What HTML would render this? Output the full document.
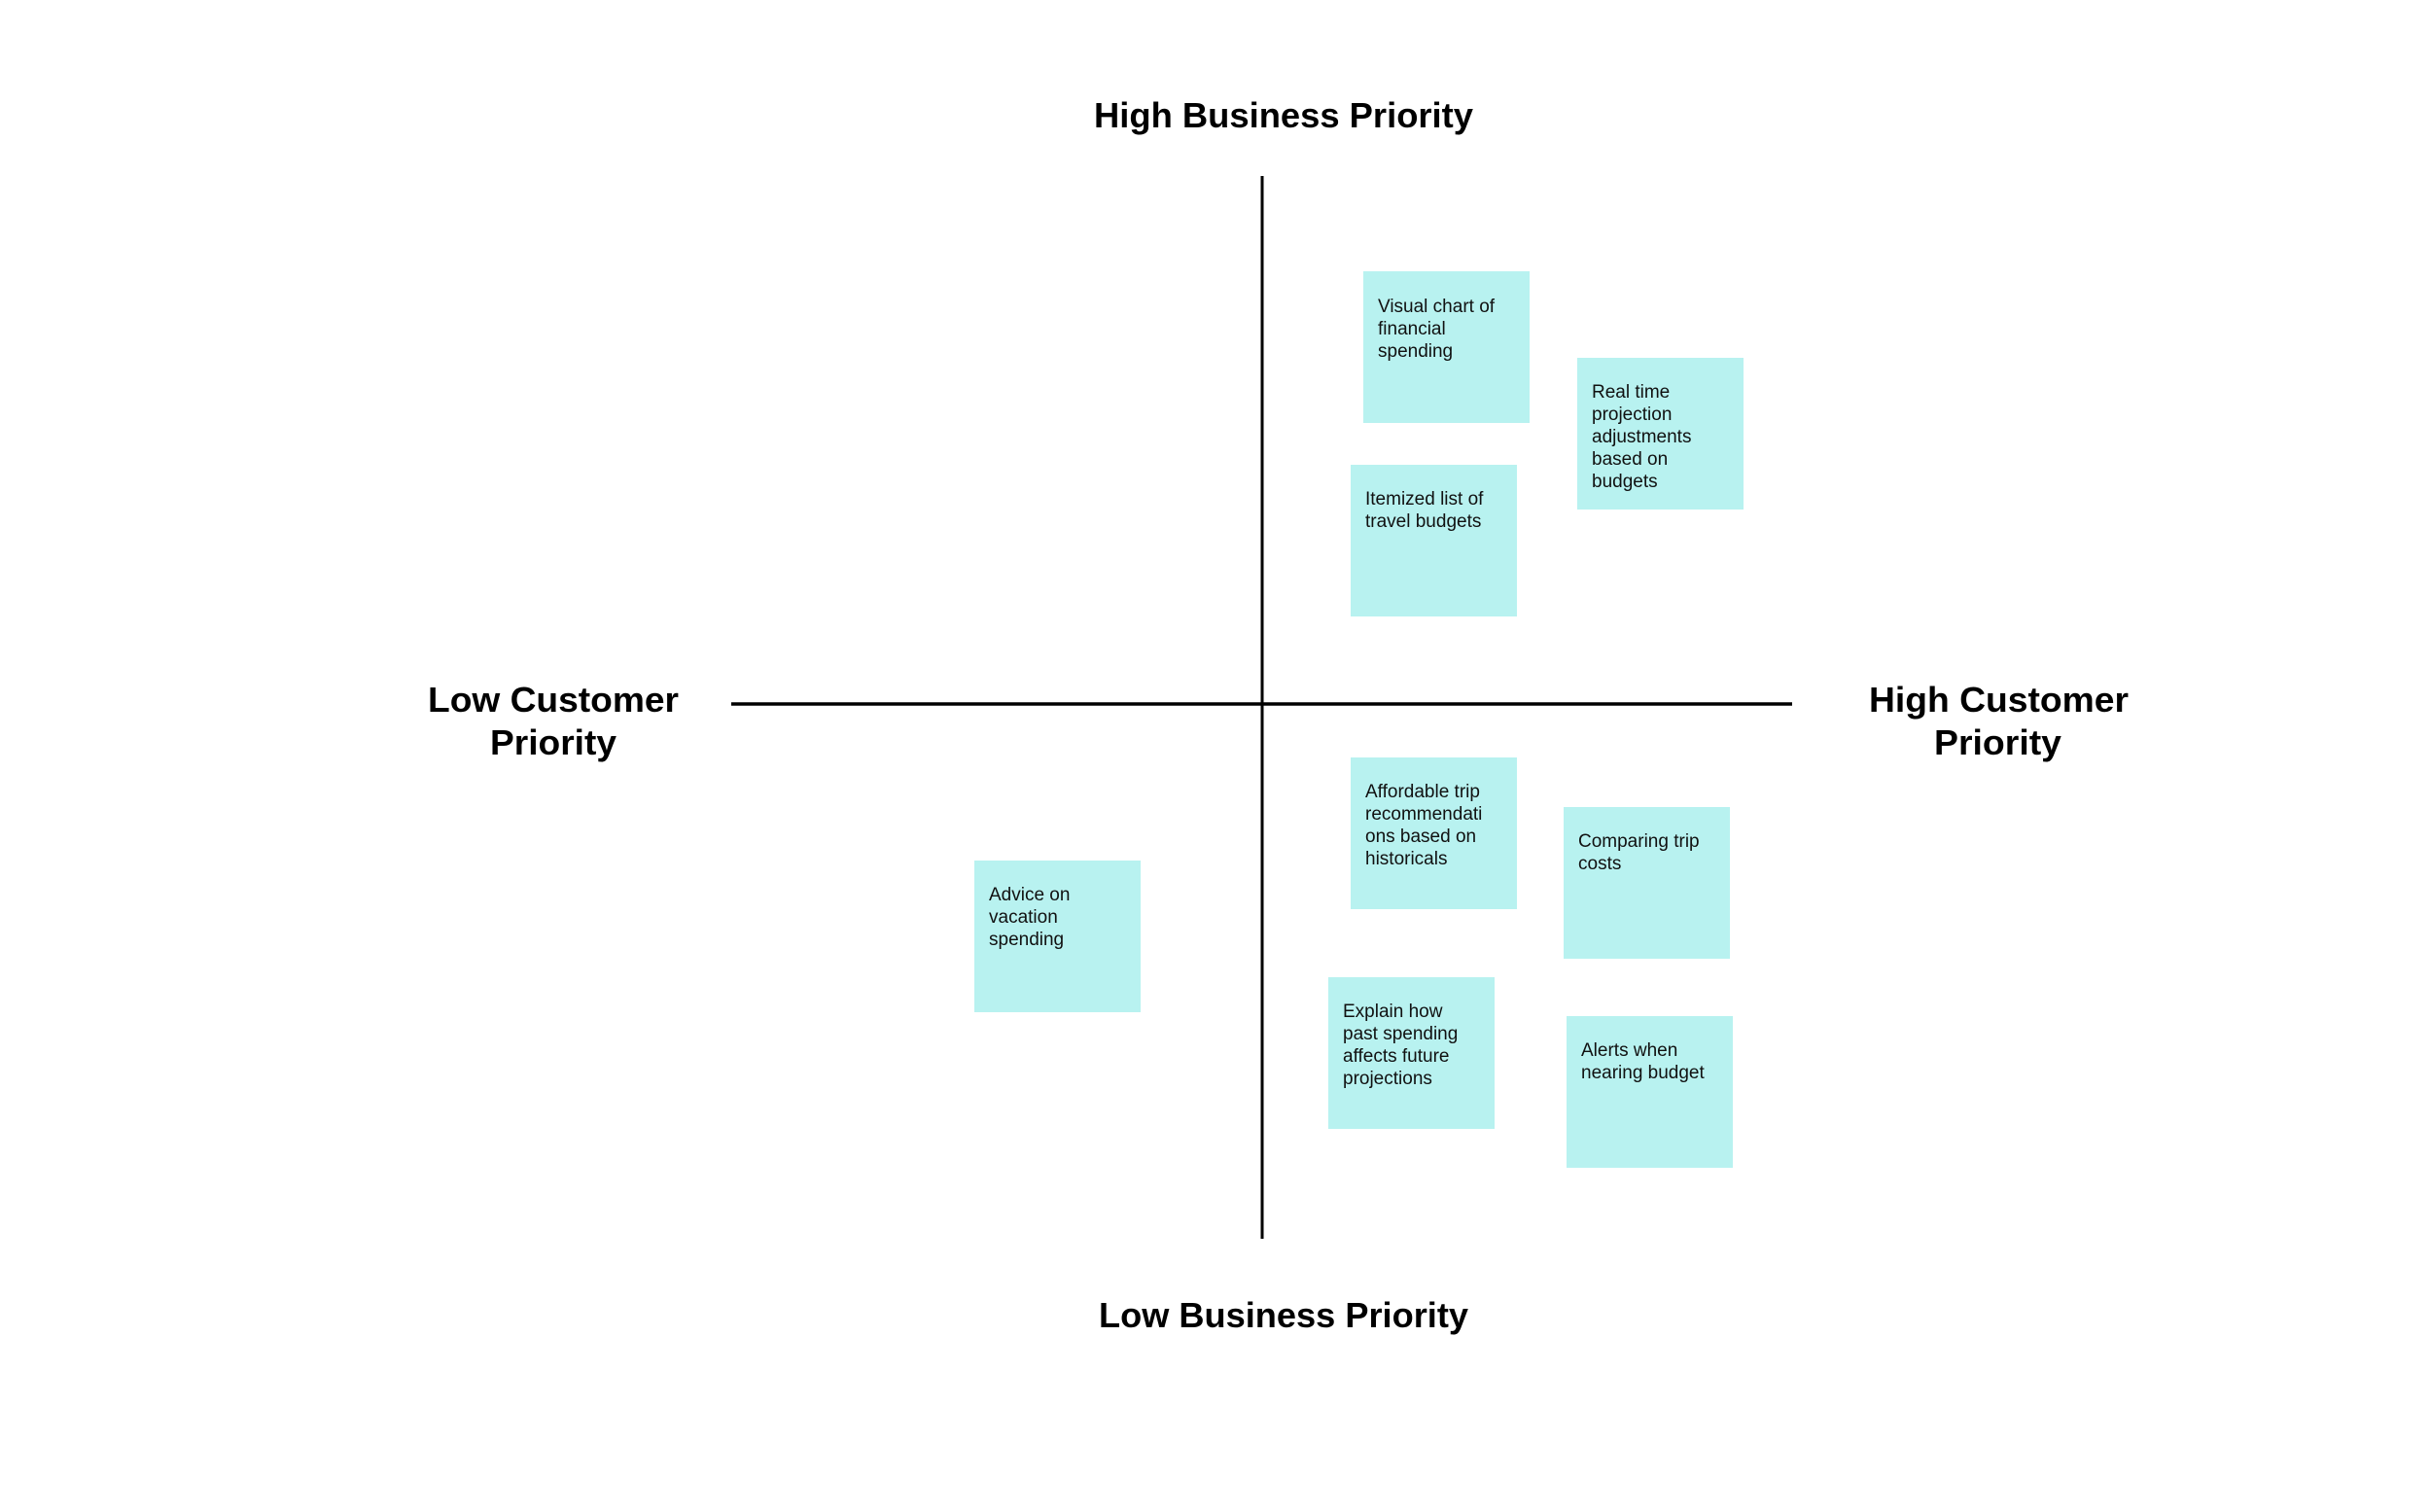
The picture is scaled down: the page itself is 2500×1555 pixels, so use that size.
<!DOCTYPE html>
<html><head><meta charset="utf-8"><style>
html,body{margin:0;padding:0;background:#fff;}
svg{display:block;}
.h{font-family:"Liberation Sans",sans-serif;font-weight:bold;font-size:36px;fill:#000;}
.s{font-family:"Liberation Sans",sans-serif;font-size:19px;fill:#111;}
</style></head><body>
<svg width="2500" height="1555" viewBox="0 0 2500 1555" xmlns="http://www.w3.org/2000/svg">
<rect width="2500" height="1555" fill="#fff"/>
<line x1="1298" y1="181" x2="1298" y2="1274" stroke="#000" stroke-width="3"/>
<line x1="752" y1="724" x2="1843" y2="724" stroke="#000" stroke-width="3.5"/>
<text class="h" x="1125" y="131" textLength="390" lengthAdjust="spacingAndGlyphs">High Business Priority</text>
<text class="h" x="1130" y="1365" textLength="380" lengthAdjust="spacingAndGlyphs">Low Business Priority</text>
<text class="h" x="440" y="732" textLength="258" lengthAdjust="spacingAndGlyphs">Low Customer</text>
<text class="h" x="504" y="776" textLength="130" lengthAdjust="spacingAndGlyphs">Priority</text>
<text class="h" x="1922" y="732" textLength="267" lengthAdjust="spacingAndGlyphs">High Customer</text>
<text class="h" x="1989" y="776" textLength="131" lengthAdjust="spacingAndGlyphs">Priority</text>
<g fill="#b8f2f0">
<rect x="1402" y="279" width="171" height="156"/>
<rect x="1622" y="368" width="171" height="156"/>
<rect x="1389" y="478" width="171" height="156"/>
<rect x="1389" y="779" width="171" height="156"/>
<rect x="1608" y="830" width="171" height="156"/>
<rect x="1002" y="885" width="171" height="156"/>
<rect x="1366" y="1005" width="171" height="156"/>
<rect x="1611" y="1045" width="171" height="156"/>
</g>
<text class="s" x="1417" y="321"><tspan x="1417">Visual chart of</tspan><tspan x="1417" dy="23">financial</tspan><tspan x="1417" dy="23">spending</tspan></text>
<text class="s" x="1637" y="409"><tspan x="1637">Real time</tspan><tspan x="1637" dy="23">projection</tspan><tspan x="1637" dy="23">adjustments</tspan><tspan x="1637" dy="23">based on</tspan><tspan x="1637" dy="23">budgets</tspan></text>
<text class="s" x="1404" y="519"><tspan x="1404">Itemized list of</tspan><tspan x="1404" dy="23">travel budgets</tspan></text>
<text class="s" x="1404" y="820"><tspan x="1404">Affordable trip</tspan><tspan x="1404" dy="23">recommendati</tspan><tspan x="1404" dy="23">ons based on</tspan><tspan x="1404" dy="23">historicals</tspan></text>
<text class="s" x="1623" y="871"><tspan x="1623">Comparing trip</tspan><tspan x="1623" dy="23">costs</tspan></text>
<text class="s" x="1017" y="926"><tspan x="1017">Advice on</tspan><tspan x="1017" dy="23">vacation</tspan><tspan x="1017" dy="23">spending</tspan></text>
<text class="s" x="1381" y="1046"><tspan x="1381">Explain how</tspan><tspan x="1381" dy="23">past spending</tspan><tspan x="1381" dy="23">affects future</tspan><tspan x="1381" dy="23">projections</tspan></text>
<text class="s" x="1626" y="1086"><tspan x="1626">Alerts when</tspan><tspan x="1626" dy="23">nearing budget</tspan></text>
</svg>
</body></html>
